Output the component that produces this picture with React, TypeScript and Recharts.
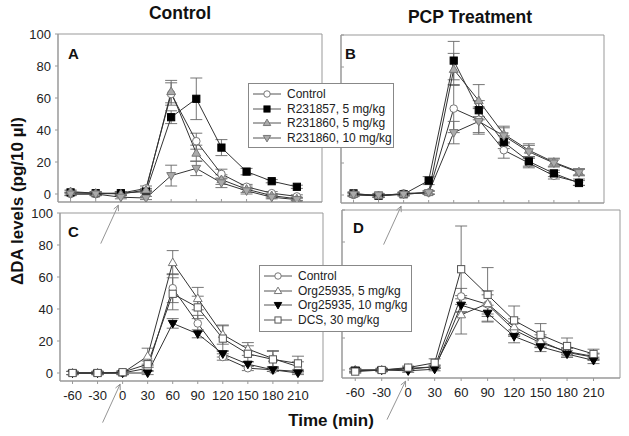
import {
  LineChart,
  Line,
  XAxis,
  YAxis,
  ErrorBar,
  ReferenceArea,
  ReferenceLine,
} from "recharts";

const times = [-60, -30, 0, 30, 60, 90, 120, 150, 180, 210];
const xTicks = [-60, -30, 0, 30, 60, 90, 120, 150, 180, 210];
const yTicks = [0, 20, 40, 60, 80, 100];

// panel A - control animals, R231857 / R231860
const aControl = [0, 0, 0.5, 3.5, 62.5, 33, 12.5, 4.5, 0.5, -1.5];
const aControlErr = [1, 1, 1, 1.5, 7, 5, 3, 1.5, 1, 1];
const aR57 = [1, 0.5, 0.5, 1.5, 48, 59.5, 29, 14, 8, 4.5];
const aR57Err = [1, 1, 1, 1, 4, 13, 5, 2, 1, 1];
const aR60lo = [1.5, 0.5, 0, 2.5, 64, 25.5, 9, 3, -1, -3];
const aR60loErr = [1, 1, 1, 1, 7, 5, 3, 2, 1, 1];
const aR60hi = [0, 0, -2, -2.5, 11.5, 16, 7, 2, -2, -3.5];
const aR60hiErr = [1, 1, 1, 1, 6.5, 4.5, 3, 2, 1, 1];

// panel B - PCP treated
const bControl = [0, -0.5, 1, 1.5, 54, 47, 28, 20, 12, 8];
const bControlErr = [1, 1, 1, 1, 15, 8, 5, 3, 2, 2];
const bR57 = [1, -0.5, 0.5, 9, 84, 53, 33, 21, 13.5, 7.5];
const bR57Err = [1, 1, 1, 2.5, 12, 6, 4, 3, 2, 1.5];
const bR60lo = [0.5, -0.5, 0.5, 1.5, 78.5, 59, 38, 28, 20.5, 14.5];
const bR60loErr = [1, 1, 1, 1, 10, 10, 5, 4, 2.5, 2];
const bR60hi = [0.5, 0, 0.5, 1.5, 39, 46, 37, 27, 20, 14];
const bR60hiErr = [1, 1, 1, 1, 7, 8, 5, 4, 2.5, 2];

// panel C - control animals, Org25935 / DCS
const cControl = [0, 0, 0, 3, 53, 31, 10, 3, 2, 1];
const cControlErr = [1, 1, 1, 1.5, 9, 5, 2, 1.5, 1, 1];
const cOrg5 = [0, 0, 0, 10.5, 69, 46.5, 24, 15, 9, 4];
const cOrg5Err = [1, 1, 1, 5, 7.5, 7, 6, 4, 5, 3];
const cOrg10 = [0, 0, 0, 0, 31, 24.5, 12, 5.5, 2, 0];
const cOrg10Err = [1, 1, 1, 1, 3, 2.5, 2, 1.5, 1, 1];
const cDcs = [0, 0, 0.5, 5.5, 49.5, 41, 21.5, 12, 8.5, 6];
const cDcsErr = [1, 1, 1, 2, 10, 7, 8, 5, 5, 4.5];

// panel D - PCP treated
const dControl = [-0.5, 0, 0.5, 2, 46, 41, 25, 17, 11.5, 8.5];
const dControlErr = [1, 1, 1, 1, 5, 6, 4, 3, 2, 2];
const dOrg5 = [0, 0, 1, 2, 34.5, 41.5, 27, 18, 11, 8];
const dOrg5Err = [1, 1, 1, 1, 12, 8, 5, 4, 3, 2];
const dOrg10 = [0, 0, -0.5, 0.5, 40.5, 35.5, 21, 14.5, 10, 6];
const dOrg10Err = [1, 1, 1, 1, 4, 5, 4, 3, 2, 2];
const dDcs = [-1, 0, 1.5, 4.5, 63, 47, 31, 22, 15, 10];
const dDcsErr = [1, 1, 1, 2.5, 27, 17, 9, 7, 5, 3];

// arrow marking drug injection (data units, start -> tip)
const arrowStart = { x: -24, y: -31 };
const arrowTip = { x: -3, y: -7 };

const FONT = '"Liberation Sans", Arial, sans-serif';
const AXIS = "#999";

const styles = {
  control: { name: "Control", kind: "circle", fill: "#fff", stroke: "#777" },
  r57: { name: "R231857, 5 mg/kg", kind: "square", fill: "#000", stroke: "#000" },
  r60lo: { name: "R231860, 5 mg/kg", kind: "up", fill: "#aaa", stroke: "#777" },
  r60hi: { name: "R231860, 10 mg/kg", kind: "down", fill: "#aaa", stroke: "#777" },
  org5: { name: "Org25935, 5 mg/kg", kind: "up", fill: "#fff", stroke: "#777" },
  org10: { name: "Org25935, 10 mg/kg", kind: "down", fill: "#000", stroke: "#000" },
  dcs: { name: "DCS, 30 mg/kg", kind: "square", fill: "#fff", stroke: "#555" },
};

type Style = { name: string; kind: string; fill: string; stroke: string };

function Marker({ cx, cy, s, scale = 1 }: { cx: number; cy: number; s: Style; scale?: number }) {
  if (cx == null || cy == null) return null;
  if (s.kind === "circle")
    return <circle cx={cx} cy={cy} r={3.8 * scale} fill={s.fill} stroke={s.stroke} strokeWidth={1} />;
  if (s.kind === "square") {
    const r = 3.6 * scale;
    return <rect x={cx - r} y={cy - r} width={2 * r} height={2 * r} fill={s.fill} stroke={s.stroke} strokeWidth={1} />;
  }
  const d = s.kind === "up" ? 1 : -1;
  const k = scale;
  const pts = `${cx},${cy - 4.6 * d * k} ${cx + 4.4 * k},${cy + 3 * d * k} ${cx - 4.4 * k},${cy + 3 * d * k}`;
  return <polygon points={pts} fill={s.fill} stroke={s.stroke} strokeWidth={1} />;
}

function Arrow(props: any) {
  const { x1, y1, x2, y2 } = props;
  if (x1 == null) return null;
  const a = Math.atan2(y2 - y1, x2 - x1);
  const L = 6;
  const w = 0.45;
  const p1 = [x2 - L * Math.cos(a - w), y2 - L * Math.sin(a - w)];
  const p2 = [x2 - L * Math.cos(a + w), y2 - L * Math.sin(a + w)];
  return (
    <g>
      <line x1={x1} y1={y1} x2={x2} y2={y2} stroke="#888" strokeWidth={0.9} />
      <polyline
        points={`${p1[0]},${p1[1]} ${x2},${y2} ${p2[0]},${p2[1]}`}
        fill="none"
        stroke="#888"
        strokeWidth={0.9}
      />
    </g>
  );
}

type Series = { style: Style; values: number[]; errors: number[] };
type Box = { left: number; top: number; right: number; bottom: number };

function buildRows(series: Series[]) {
  return times.map((t, i) => {
    const row: Record<string, number> = { t };
    series.forEach((s, k) => {
      row["v" + k] = s.values[i];
      row["e" + k] = s.errors[i];
    });
    return row;
  });
}

function Panel({
  box,
  series,
  xLabels,
  yLabels,
}: {
  box: Box;
  series: Series[];
  xLabels: boolean;
  yLabels: boolean;
}) {
  const padL = 50;
  const padT = 10;
  const padR = 10;
  const axisH = 30;
  const extra = 25;
  const w = box.right - box.left;
  const h = box.bottom - box.top;
  const rows = buildRows(series);
  const tickStyle = { fill: "#222", fontSize: 13, fontFamily: FONT };
  // mirrored axes (no labels) do not reserve room, so pad the margin instead
  const margin = {
    top: padT,
    right: padR,
    left: yLabels ? 0 : padL,
    bottom: extra + (xLabels ? 0 : axisH),
  };
  return (
    <div style={{ position: "absolute", left: box.left - padL, top: box.top - padT }}>
      <LineChart width={w + padL + padR} height={h + padT + axisH + extra} data={rows} margin={margin}>
        <XAxis
          type="number"
          dataKey="t"
          domain={[-75, 240]}
          ticks={xTicks}
          allowDataOverflow
          height={axisH}
          stroke={AXIS}
          tickSize={3}
          tickMargin={7}
          mirror={!xLabels}
          tick={tickStyle}
          tickFormatter={xLabels ? (v: number) => String(v) : () => ""}
        />
        <YAxis
          type="number"
          domain={[-5, 100]}
          ticks={yTicks}
          allowDataOverflow
          width={padL}
          stroke={AXIS}
          tickSize={3}
          tickMargin={4}
          mirror={!yLabels}
          tick={tickStyle}
          tickFormatter={yLabels ? (v: number) => String(v) : () => ""}
        />
        <ReferenceArea x1={-75} x2={240} y1={-5} y2={100} fill="none" stroke={AXIS} strokeWidth={1} />
        <ReferenceLine segment={[arrowStart, arrowTip]} ifOverflow="visible" shape={Arrow} />
        {series.map((s, k) => (
          <Line
            key={s.style.name}
            dataKey={"v" + k}
            stroke="#333"
            strokeWidth={1}
            isAnimationActive={false}
            dot={(p: any) => <Marker key={s.style.name + p.index} cx={p.cx} cy={p.cy} s={s.style} />}
            activeDot={false}
          >
            <ErrorBar
              dataKey={"e" + k}
              direction="y"
              width={6}
              stroke="#666"
              strokeWidth={0.9}
              isAnimationActive={false}
            />
          </Line>
        ))}
      </LineChart>
    </div>
  );
}

function LegendBox({ left, top, width, height, items, textLeft }: any) {
  return (
    <div
      style={{
        position: "absolute",
        left,
        top,
        width,
        height,
        boxSizing: "border-box",
        border: "1px solid #888",
        background: "#fff",
        fontFamily: FONT,
        fontSize: 12,
        color: "#222",
        paddingTop: 3,
      }}
    >
      {items.map((s: Style) => (
        <div key={s.name} style={{ display: "flex", alignItems: "center", height: 14.5 }}>
          <svg width={textLeft} height={12} style={{ flex: "none" }}>
            <line x1={4} x2={textLeft - 6} y1={6} y2={6} stroke="#555" strokeWidth={1} />
            <Marker cx={(textLeft - 2) / 2} cy={6} s={s} scale={0.85} />
          </svg>
          <span style={{ whiteSpace: "nowrap" }}>{s.name}</span>
        </div>
      ))}
    </div>
  );
}

const text = (extra: React.CSSProperties): React.CSSProperties => ({
  position: "absolute",
  fontFamily: FONT,
  fontWeight: "bold",
  color: "#111",
  whiteSpace: "nowrap",
  lineHeight: 1,
  ...extra,
});

export default function App() {
  const panelA: Series[] = [
    { style: styles.control, values: aControl, errors: aControlErr },
    { style: styles.r57, values: aR57, errors: aR57Err },
    { style: styles.r60lo, values: aR60lo, errors: aR60loErr },
    { style: styles.r60hi, values: aR60hi, errors: aR60hiErr },
  ];
  const panelB: Series[] = [
    { style: styles.control, values: bControl, errors: bControlErr },
    { style: styles.r57, values: bR57, errors: bR57Err },
    { style: styles.r60lo, values: bR60lo, errors: bR60loErr },
    { style: styles.r60hi, values: bR60hi, errors: bR60hiErr },
  ];
  const panelC: Series[] = [
    { style: styles.control, values: cControl, errors: cControlErr },
    { style: styles.org5, values: cOrg5, errors: cOrg5Err },
    { style: styles.org10, values: cOrg10, errors: cOrg10Err },
    { style: styles.dcs, values: cDcs, errors: cDcsErr },
  ];
  const panelD: Series[] = [
    { style: styles.control, values: dControl, errors: dControlErr },
    { style: styles.org5, values: dOrg5, errors: dOrg5Err },
    { style: styles.org10, values: dOrg10, errors: dOrg10Err },
    { style: styles.dcs, values: dDcs, errors: dDcsErr },
  ];

  return (
    <div
      style={{
        position: "absolute",
        left: 0,
        top: 0,
        width: 629,
        height: 436,
        background: "#fff",
        overflow: "hidden",
      }}
    >
      <Panel box={{ left: 58, top: 34, right: 322, bottom: 202 }} series={panelA} xLabels={false} yLabels />
      <Panel box={{ left: 341, top: 35, right: 604, bottom: 203 }} series={panelB} xLabels={false} yLabels={false} />
      <Panel box={{ left: 60, top: 213, right: 323, bottom: 381 }} series={panelC} xLabels yLabels />
      <Panel box={{ left: 342, top: 210, right: 620, bottom: 378 }} series={panelD} xLabels yLabels={false} />

      <div style={text({ left: 180, top: 14, fontSize: 17.5, transform: "translate(-50%, -50%)" })}>Control</div>
      <div style={text({ left: 470, top: 18, fontSize: 17.5, transform: "translate(-50%, -50%)" })}>
        PCP Treatment
      </div>
      <div style={text({ left: 68, top: 46, fontSize: 15 })}>A</div>
      <div style={text({ left: 345, top: 46, fontSize: 15 })}>B</div>
      <div style={text({ left: 68, top: 224, fontSize: 15 })}>C</div>
      <div style={text({ left: 353, top: 220, fontSize: 15 })}>D</div>
      <div
        style={text({
          left: 17,
          top: 201,
          fontSize: 17,
          transform: "translate(-50%, -50%) rotate(-90deg)",
        })}
      >
        ΔDA levels (pg/10 µl)
      </div>
      <div style={text({ left: 331, top: 420, fontSize: 17, transform: "translate(-50%, -50%)" })}>
        Time (min)
      </div>

      <LegendBox
        left={248}
        top={83}
        width={146}
        height={65}
        textLeft={38}
        items={[styles.control, styles.r57, styles.r60lo, styles.r60hi]}
      />
      <LegendBox
        left={259}
        top={265}
        width={153}
        height={67}
        textLeft={38}
        items={[styles.control, styles.org5, styles.org10, styles.dcs]}
      />
    </div>
  );
}
